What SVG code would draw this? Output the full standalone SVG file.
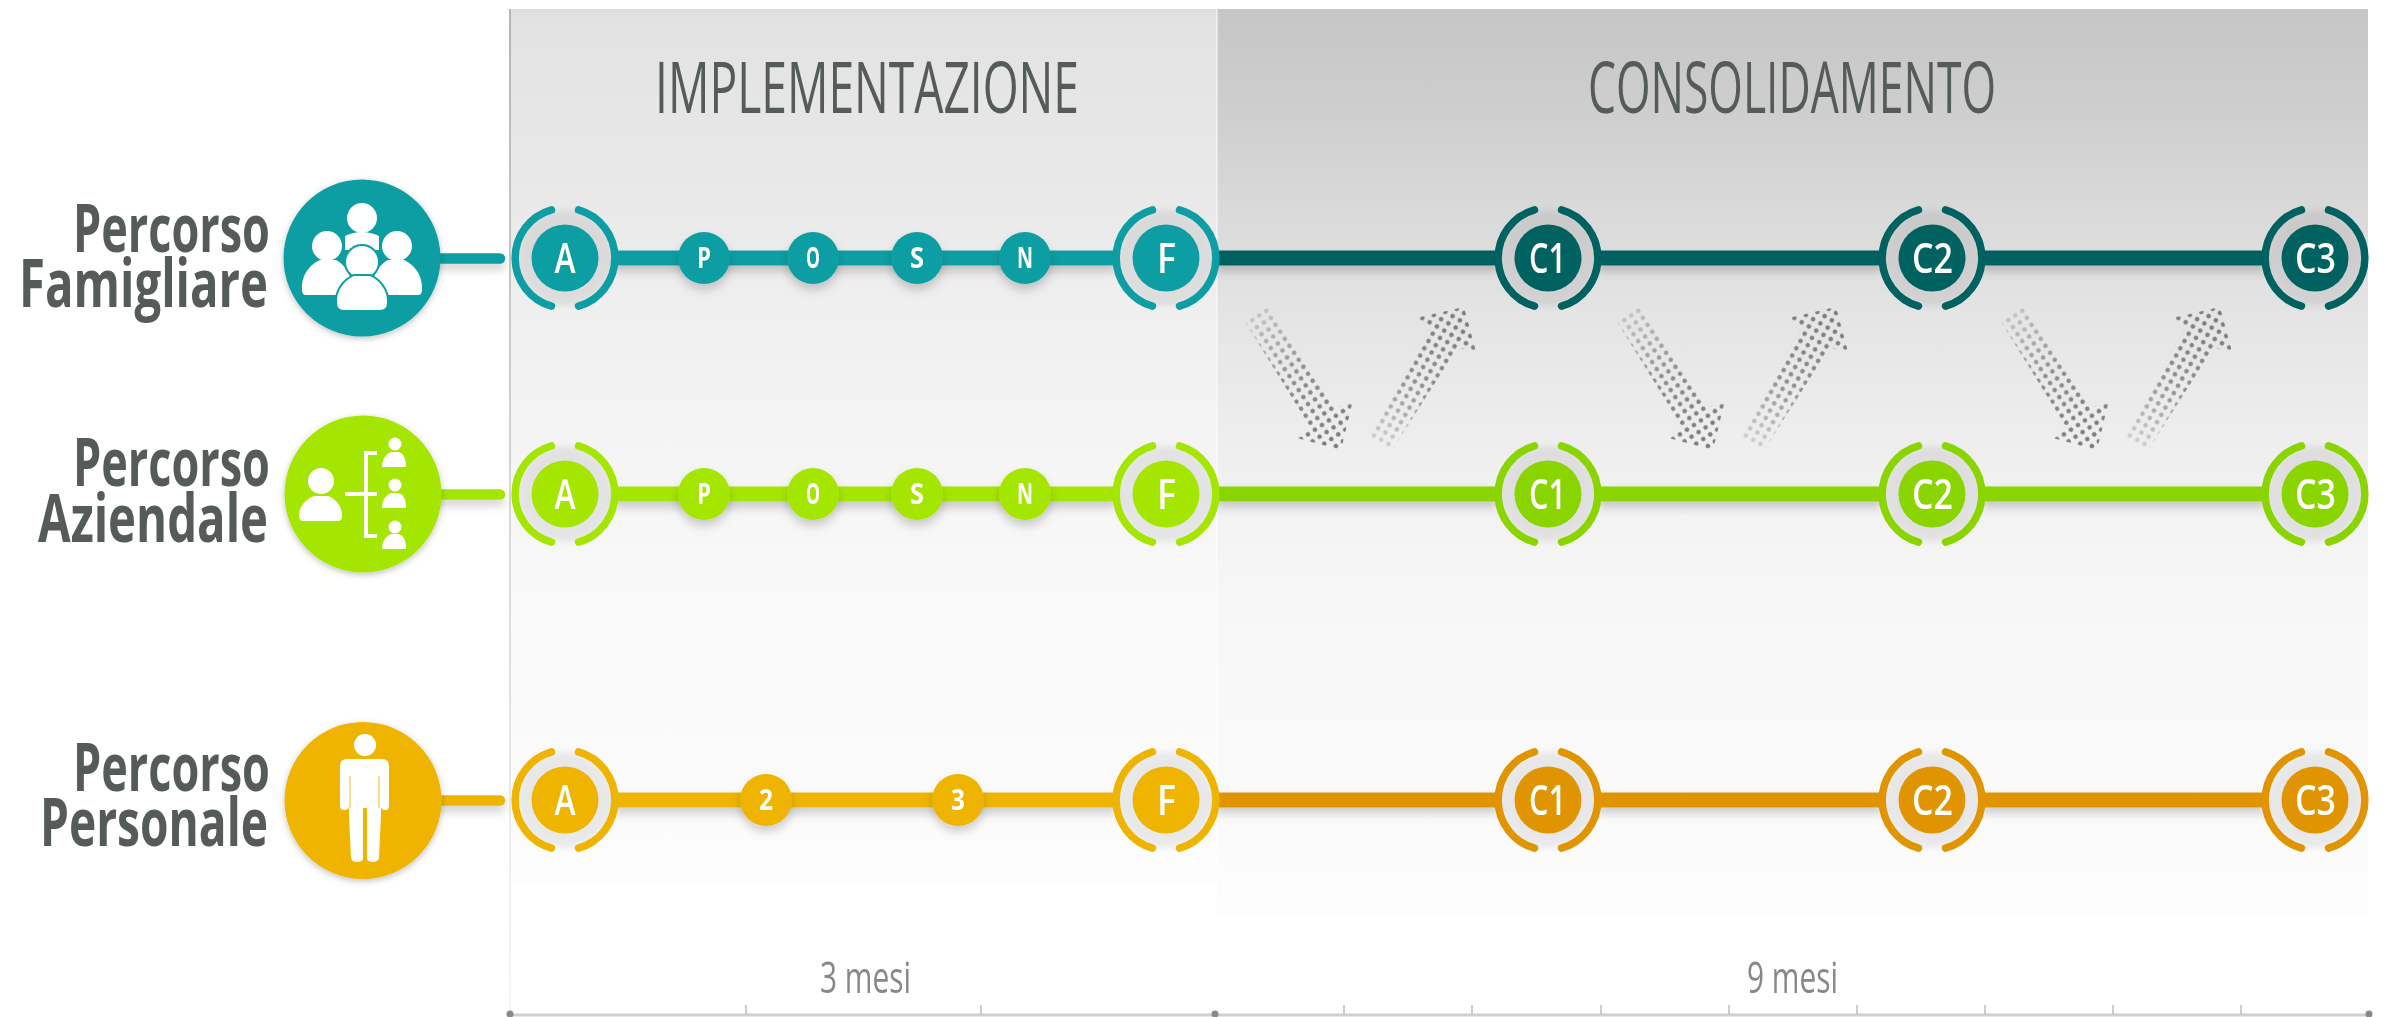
<svg xmlns="http://www.w3.org/2000/svg" xmlns:xlink="http://www.w3.org/1999/xlink" width="2386" height="1017" viewBox="0 0 2386 1017">
<style>
text{font-family:"Open Sans","Liberation Sans",sans-serif}
.teal{color:#0f9ea3}.dteal{color:#026260}.lime{color:#a5e600}.dlime{color:#8ad400}.yel{color:#eeb400}.ora{color:#e09400}
.ring{fill:none;stroke:currentColor;stroke-width:7.5;stroke-linecap:round}
.disc{fill:currentColor}
.halo{fill:#000;opacity:.07;filter:url(#soft)}
.big{fill:#fff;font-size:42px;font-weight:600}
.small{fill:#fff;font-size:28px;font-weight:700}
.head{fill:#555b58;font-size:71px;font-weight:400}
.lab{fill:#555b58;font-size:66px;font-weight:700}
.dur{fill:#888;font-size:44px;font-weight:400}
.ln{stroke:currentColor;stroke-width:15;fill:none}
.stub{stroke:currentColor;stroke-width:10.5;stroke-linecap:round;fill:none}
.w{fill:#fff}
.tick{stroke:#bdbdbd;stroke-width:1.5}
</style>
<defs>
<linearGradient id="gl" gradientUnits="userSpaceOnUse" x1="0" y1="0" x2="0" y2="1000">
<stop offset=".009" stop-color="#dfdfdf"/><stop offset=".027" stop-color="#e3e3e3"/><stop offset=".2" stop-color="#e9e9e9"/><stop offset=".3" stop-color="#efefef"/><stop offset=".4" stop-color="#f3f3f3"/><stop offset=".5" stop-color="#f6f6f6"/><stop offset=".6" stop-color="#f9f9f9"/><stop offset=".8" stop-color="#fbfbfb"/><stop offset=".883" stop-color="#fdfdfd"/>
</linearGradient>
<linearGradient id="gr" gradientUnits="userSpaceOnUse" x1="0" y1="0" x2="0" y2="1000">
<stop offset=".009" stop-color="#c6c6c6"/><stop offset=".1" stop-color="#cdcdcd"/><stop offset=".2" stop-color="#d8d8d8"/><stop offset=".3" stop-color="#e3e3e3"/><stop offset=".4" stop-color="#ebebeb"/><stop offset=".5" stop-color="#f2f2f2"/><stop offset=".6" stop-color="#f7f7f7"/><stop offset=".8" stop-color="#fafafa"/><stop offset=".918" stop-color="#fdfdfd"/>
</linearGradient>
<linearGradient id="edge" gradientUnits="userSpaceOnUse" x1="0" y1="9" x2="0" y2="1010">
<stop offset="0" stop-color="#b5b5b5"/><stop offset=".6" stop-color="#dddddd"/><stop offset="1" stop-color="#f6f6f6"/>
</linearGradient>
<filter id="soft" x="-30%" y="-30%" width="160%" height="160%"><feGaussianBlur stdDeviation="3"/></filter>
<filter id="sh" x="-20%" y="-60%" width="140%" height="260%"><feDropShadow dx="0" dy="6" stdDeviation="5" flood-color="#000" flood-opacity=".18"/></filter>
<filter id="sh2" x="-20%" y="-20%" width="140%" height="140%"><feDropShadow dx="0" dy="2" stdDeviation="3" flood-color="#000" flood-opacity=".25"/></filter>
<filter id="b" x="-2%" y="-2%" width="104%" height="104%"><feGaussianBlur stdDeviation=".7"/></filter>
<pattern id="dotD" width="8.4" height="8.4" patternUnits="userSpaceOnUse" patternTransform="rotate(56.4 1245 322)"><circle cx="4.2" cy="4.2" r="2.3" fill="#777"/></pattern>
<pattern id="dotU" width="8.4" height="8.4" patternUnits="userSpaceOnUse" patternTransform="rotate(30 1368 435)"><circle cx="4.2" cy="4.2" r="2.3" fill="#777"/></pattern>
<linearGradient id="fadeD" gradientUnits="userSpaceOnUse" x1="1256" y1="314" x2="1341" y2="450"><stop offset="0" stop-color="#fff" stop-opacity=".3"/><stop offset=".45" stop-color="#fff" stop-opacity=".8"/><stop offset="1" stop-color="#fff"/></linearGradient>
<linearGradient id="fadeU" gradientUnits="userSpaceOnUse" x1="1380" y1="444" x2="1464" y2="307"><stop offset="0" stop-color="#fff" stop-opacity=".25"/><stop offset=".45" stop-color="#fff" stop-opacity=".8"/><stop offset="1" stop-color="#fff"/></linearGradient>
<mask id="mD" maskUnits="userSpaceOnUse" x="1200" y="280" width="200" height="200"><rect x="1200" y="280" width="200" height="200" fill="url(#fadeD)"/></mask>
<mask id="mU" maskUnits="userSpaceOnUse" x="1340" y="280" width="170" height="200"><rect x="1340" y="280" width="170" height="200" fill="url(#fadeU)"/></mask>
<g id="arrows">
<polygon points="1268,307 1335,408 1353,400 1341,450 1293,437 1310,427 1245,322" fill="url(#dotD)" mask="url(#mD)"/>
<polygon points="1368,435 1429,328 1416,318 1464,307 1477,355 1458,347 1391,452" fill="url(#dotU)" mask="url(#mU)"/>
</g>
<path id="ringp" class="ring" d="M13.5,-48.1A50,50 0 0 1 13.5,48.1M-13.5,48.1A50,50 0 0 1 -13.5,-48.1"/>
<g id="halo"><circle class="halo" r="48"/></g>
</defs>

<g filter="url(#b)">
<g id="panels">
<rect x="510" y="9" width="707" height="874" fill="url(#gl)"/>
<rect x="1217" y="9" width="1151" height="909" fill="url(#gr)"/>
<line x1="510" y1="9" x2="510" y2="1010" stroke="url(#edge)" stroke-width="2"/>
<rect x="1216" y="9" width="2" height="874" fill="#fff" opacity=".45"/>
<text class="head" x="655" y="113" textLength="424" lengthAdjust="spacingAndGlyphs">IMPLEMENTAZIONE</text>
<text class="head" x="1588" y="113" textLength="408" lengthAdjust="spacingAndGlyphs">CONSOLIDAMENTO</text>
</g>

<g id="arrow-marks">
<use href="#arrows"/>
<use href="#arrows" transform="translate(372,0)"/>
<use href="#arrows" transform="translate(756,0)"/>
</g>

<g id="connectors" filter="url(#sh)">
<g class="teal"><line class="stub" x1="435" y1="258.5" x2="500" y2="258.5"/><line class="ln" x1="615" y1="258" x2="1116" y2="258"/></g>
<g class="dteal"><line class="ln" x1="1216" y1="258" x2="1498" y2="258"/><line class="ln" x1="1598" y1="258" x2="1882" y2="258"/><line class="ln" x1="1982" y1="258" x2="2265" y2="258"/></g>
<g class="lime"><line class="stub" x1="435" y1="494.5" x2="500" y2="494.5"/><line class="ln" x1="615" y1="494" x2="1116" y2="494"/></g>
<g class="dlime"><line class="ln" x1="1216" y1="494" x2="1498" y2="494"/><line class="ln" x1="1598" y1="494" x2="1882" y2="494"/><line class="ln" x1="1982" y1="494" x2="2265" y2="494"/></g>
<g class="yel"><line class="stub" x1="435" y1="800.5" x2="500" y2="800.5"/><line class="ln" x1="615" y1="800" x2="1116" y2="800"/></g>
<g class="ora"><line class="ln" x1="1216" y1="800" x2="1498" y2="800"/><line class="ln" x1="1598" y1="800" x2="1882" y2="800"/><line class="ln" x1="1982" y1="800" x2="2265" y2="800"/></g>
</g>

<g id="label-famigliare">
<text class="lab" x="73" y="252" textLength="197" lengthAdjust="spacingAndGlyphs">Percorso</text>
<text class="lab" x="19" y="307" textLength="249" lengthAdjust="spacingAndGlyphs">Famigliare</text>
</g>
<g id="label-aziendale">
<text class="lab" x="73" y="486" textLength="197" lengthAdjust="spacingAndGlyphs">Percorso</text>
<text class="lab" x="38" y="542" textLength="230" lengthAdjust="spacingAndGlyphs">Aziendale</text>
</g>
<g id="label-personale">
<text class="lab" x="73" y="791" textLength="197" lengthAdjust="spacingAndGlyphs">Percorso</text>
<text class="lab" x="40" y="846" textLength="228" lengthAdjust="spacingAndGlyphs">Personale</text>
</g>

<g id="icon-famigliare">
<circle cx="362" cy="258" r="78.5" fill="#0f9ea3" filter="url(#sh2)"/>
<circle class="w" cx="362" cy="218" r="15"/>
<path class="w" d="M345,236Q362,228 379,236L379,250L345,250Z"/>
<circle class="w" cx="327" cy="246" r="15"/>
<path class="w" d="M302,290C301,272 313,263 320,260L336,260C344,264 352,274 352,290Q352,295 347,295L306,295Q302,295 302,290Z"/>
<circle class="w" cx="397" cy="246" r="15"/>
<path class="w" d="M422,290C423,272 411,263 404,260L388,260C380,264 372,274 372,290Q372,295 377,295L418,295Q422,295 422,290Z"/>
<circle cx="362" cy="262" r="16" fill="#fff" stroke="#0f9ea3" stroke-width="4" paint-order="stroke"/>
<path d="M337,303C336,290 345,280 354,276L370,276C379,280 388,290 387,303Q387,310 380,310L344,310Q337,310 337,303Z" fill="#fff" stroke="#0f9ea3" stroke-width="4" paint-order="stroke"/>
</g>

<g id="icon-aziendale">
<circle cx="363" cy="494" r="78.5" fill="#a5e600" filter="url(#sh2)"/>
<circle class="w" cx="321" cy="481" r="13"/>
<path class="w" d="M299,516C299,506 306,499 314,496L328,496C336,499 342,506 342,516Q342,521 338,521L303,521Q299,521 299,516Z"/>
<path d="M345,494H377M377,453H366V536H377" fill="none" stroke="#fff" stroke-width="4"/>
<g id="mini">
<circle class="w" cx="395" cy="444" r="6.5"/><path class="w" d="M382,467C382,459 386,454 391,452H399C404,454 406,459 406,467Z"/>
<circle class="w" cx="395" cy="485" r="6.5"/><path class="w" d="M382,508C382,500 386,495 391,493H399C404,495 406,500 406,508Z"/>
<circle class="w" cx="395" cy="527" r="6.5"/><path class="w" d="M382,549C382,541 386,536 391,534H399C404,536 406,541 406,549Z"/>
</g>
</g>

<g id="icon-personale">
<circle cx="363" cy="800.5" r="78.5" fill="#eeb400" filter="url(#sh2)"/>
<circle class="w" cx="365" cy="745" r="11"/>
<path class="w" d="M347,759H382Q389,759 389,766V806Q389,810 385.500,810Q381,810 381,806V815L379,858Q378,862 373,862Q367,862 367,858V808H363V858Q363,862 357,862Q352,862 351,858L349,815V806Q349,810 344.500,810Q340,810 340,806V766Q340,759 347,759Z"/>
<path d="M350,776V808M379,776V808" stroke="#eeb400" stroke-width="1.200" opacity=".7" fill="none"/>
</g>

<!-- Row 1 -->
<g id="fam-A" class="teal" transform="translate(565,258)"><use href="#halo"/><use href="#ringp"/><circle class="disc" r="33.500"/><text class="big" x="-10.500" y="15" textLength="21" lengthAdjust="spacingAndGlyphs">A</text></g>
<g id="fam-P" class="teal" transform="translate(704,258)" filter="url(#sh)"><circle class="disc" r="26"/><text class="small" x="-7" y="10" textLength="14" lengthAdjust="spacingAndGlyphs">P</text></g>
<g id="fam-O" class="teal" transform="translate(813,258)" filter="url(#sh)"><circle class="disc" r="26"/><text class="small" x="-7" y="10" textLength="14" lengthAdjust="spacingAndGlyphs">O</text></g>
<g id="fam-S" class="teal" transform="translate(917,258)" filter="url(#sh)"><circle class="disc" r="26"/><text class="small" x="-7" y="10" textLength="14" lengthAdjust="spacingAndGlyphs">S</text></g>
<g id="fam-N" class="teal" transform="translate(1025,258)" filter="url(#sh)"><circle class="disc" r="26"/><text class="small" x="-8" y="10" textLength="16" lengthAdjust="spacingAndGlyphs">N</text></g>
<g id="fam-F" class="teal" transform="translate(1166,258)"><use href="#halo"/><use href="#ringp"/><circle class="disc" r="33.500"/><text class="big" x="-9" y="15" textLength="19" lengthAdjust="spacingAndGlyphs">F</text></g>
<g id="fam-C1" class="dteal" transform="translate(1548,258)"><use href="#halo"/><use href="#ringp"/><circle class="disc" r="33.500"/><text class="big" x="-19" y="15" textLength="37" lengthAdjust="spacingAndGlyphs">C1</text></g>
<g id="fam-C2" class="dteal" transform="translate(1932,258)"><use href="#halo"/><use href="#ringp"/><circle class="disc" r="33.500"/><text class="big" x="-20" y="15" textLength="41" lengthAdjust="spacingAndGlyphs">C2</text></g>
<g id="fam-C3" class="dteal" transform="translate(2315,258)"><use href="#halo"/><use href="#ringp"/><circle class="disc" r="33.500"/><text class="big" x="-20" y="15" textLength="41" lengthAdjust="spacingAndGlyphs">C3</text></g>

<!-- Row 2 -->
<g id="azi-A" class="lime" transform="translate(565,494)"><use href="#halo"/><use href="#ringp"/><circle class="disc" r="33.500"/><text class="big" x="-10.500" y="15" textLength="21" lengthAdjust="spacingAndGlyphs">A</text></g>
<g id="azi-P" class="lime" transform="translate(704,494)" filter="url(#sh)"><circle class="disc" r="26"/><text class="small" x="-7" y="10" textLength="14" lengthAdjust="spacingAndGlyphs">P</text></g>
<g id="azi-O" class="lime" transform="translate(813,494)" filter="url(#sh)"><circle class="disc" r="26"/><text class="small" x="-7" y="10" textLength="14" lengthAdjust="spacingAndGlyphs">O</text></g>
<g id="azi-S" class="lime" transform="translate(917,494)" filter="url(#sh)"><circle class="disc" r="26"/><text class="small" x="-7" y="10" textLength="14" lengthAdjust="spacingAndGlyphs">S</text></g>
<g id="azi-N" class="lime" transform="translate(1025,494)" filter="url(#sh)"><circle class="disc" r="26"/><text class="small" x="-8" y="10" textLength="16" lengthAdjust="spacingAndGlyphs">N</text></g>
<g id="azi-F" class="lime" transform="translate(1166,494)"><use href="#halo"/><use href="#ringp"/><circle class="disc" r="33.500"/><text class="big" x="-9" y="15" textLength="19" lengthAdjust="spacingAndGlyphs">F</text></g>
<g id="azi-C1" class="dlime" transform="translate(1548,494)"><use href="#halo"/><use href="#ringp"/><circle class="disc" r="33.500"/><text class="big" x="-19" y="15" textLength="37" lengthAdjust="spacingAndGlyphs">C1</text></g>
<g id="azi-C2" class="dlime" transform="translate(1932,494)"><use href="#halo"/><use href="#ringp"/><circle class="disc" r="33.500"/><text class="big" x="-20" y="15" textLength="41" lengthAdjust="spacingAndGlyphs">C2</text></g>
<g id="azi-C3" class="dlime" transform="translate(2315,494)"><use href="#halo"/><use href="#ringp"/><circle class="disc" r="33.500"/><text class="big" x="-20" y="15" textLength="41" lengthAdjust="spacingAndGlyphs">C3</text></g>

<!-- Row 3 -->
<g id="per-A" class="yel" transform="translate(565,800)"><use href="#halo"/><use href="#ringp"/><circle class="disc" r="33.500"/><text class="big" x="-10.500" y="15" textLength="21" lengthAdjust="spacingAndGlyphs">A</text></g>
<g id="per-2" class="yel" transform="translate(766,800)" filter="url(#sh)"><circle class="disc" r="26"/><text class="small" x="-7" y="10" textLength="14" lengthAdjust="spacingAndGlyphs">2</text></g>
<g id="per-3" class="yel" transform="translate(958,800)" filter="url(#sh)"><circle class="disc" r="26"/><text class="small" x="-7" y="10" textLength="14" lengthAdjust="spacingAndGlyphs">3</text></g>
<g id="per-F" class="yel" transform="translate(1166,800)"><use href="#halo"/><use href="#ringp"/><circle class="disc" r="33.500"/><text class="big" x="-9" y="15" textLength="19" lengthAdjust="spacingAndGlyphs">F</text></g>
<g id="per-C1" class="ora" transform="translate(1548,800)"><use href="#halo"/><use href="#ringp"/><circle class="disc" r="33.500"/><text class="big" x="-19" y="15" textLength="37" lengthAdjust="spacingAndGlyphs">C1</text></g>
<g id="per-C2" class="ora" transform="translate(1932,800)"><use href="#halo"/><use href="#ringp"/><circle class="disc" r="33.500"/><text class="big" x="-20" y="15" textLength="41" lengthAdjust="spacingAndGlyphs">C2</text></g>
<g id="per-C3" class="ora" transform="translate(2315,800)"><use href="#halo"/><use href="#ringp"/><circle class="disc" r="33.500"/><text class="big" x="-20" y="15" textLength="41" lengthAdjust="spacingAndGlyphs">C3</text></g>

<g id="axis">
<text class="dur" x="820" y="993" textLength="91" lengthAdjust="spacingAndGlyphs">3 mesi</text>
<text class="dur" x="1747" y="993" textLength="91" lengthAdjust="spacingAndGlyphs">9 mesi</text>
<line x1="508" y1="1015" x2="2372" y2="1015" stroke="#d0d0d0" stroke-width="3"/>
<path class="tick" d="M746,1005V1014M981,1005V1014M1344,1005V1014M1472,1005V1014M1601,1005V1014M1729,1005V1014M1857,1005V1014M1985,1005V1014M2113,1005V1014M2241,1005V1014"/>
<circle cx="510" cy="1014" r="3.500" fill="#8a8a8a"/>
<circle cx="1215" cy="1014" r="3.500" fill="#8a8a8a"/>
<circle cx="2369" cy="1014" r="3.500" fill="#8a8a8a"/>
</g>
</g>
</svg>
